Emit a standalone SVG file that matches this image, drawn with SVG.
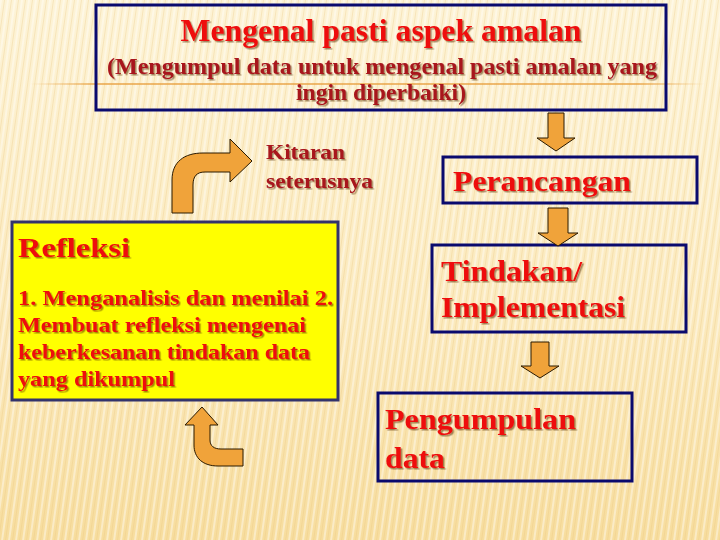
<svg xmlns="http://www.w3.org/2000/svg" width="720" height="540" viewBox="0 0 720 540">
<defs>
<linearGradient id="bg" x1="0" y1="0" x2="0" y2="1">
<stop offset="0" stop-color="#fdf3d6"/>
<stop offset="0.6" stop-color="#fbe9bc"/>
<stop offset="1" stop-color="#f7dd9e"/>
</linearGradient>
<linearGradient id="hl" x1="0" y1="0" x2="1" y2="0">
<stop offset="0" stop-color="#e8a040" stop-opacity="0"/>
<stop offset="0.1" stop-color="#e8a040" stop-opacity="0.7"/>
<stop offset="0.9" stop-color="#e8a040" stop-opacity="0.7"/>
<stop offset="1" stop-color="#e8a040" stop-opacity="0"/>
</linearGradient>
<pattern id="stripes" width="7" height="540" patternUnits="userSpaceOnUse" patternTransform="skewX(-8)">
<rect x="0" y="0" width="2" height="540" fill="#ffffff" opacity="0.4"/>
<rect x="4" y="0" width="1" height="540" fill="#e8c67a" opacity="0.3"/>
</pattern>
<filter id="sh" x="-10%" y="-20%" width="120%" height="150%">
<feDropShadow dx="1.5" dy="1.5" stdDeviation="0.4" flood-color="#5a3000" flood-opacity="0.55"/>
</filter>
<style>
.t{font-family:"Liberation Serif","Times New Roman",serif;font-weight:bold}
.red{fill:#ee1111;filter:url(#sh)}
.dred{fill:#a8141c;filter:url(#sh)}
.box{fill:none;stroke:#0a0a6e;stroke-width:3}
.arr{fill:#f0a33a;stroke:#2a1a00;stroke-width:1;stroke-linejoin:miter}
</style>
</defs>
<rect width="720" height="540" fill="url(#bg)"/>
<rect width="720" height="540" fill="url(#stripes)"/>
<rect x="30" y="83" width="675" height="2" fill="url(#hl)"/>

<g id="top-box">
<rect class="box" x="96" y="5" width="570" height="105"/>
<text class="t red" x="381" y="41" font-size="32" text-anchor="middle" textLength="401" lengthAdjust="spacingAndGlyphs">Mengenal pasti aspek amalan</text>
<text class="t dred" x="382" y="74" font-size="23" text-anchor="middle" textLength="550" lengthAdjust="spacingAndGlyphs">(Mengumpul data untuk mengenal pasti amalan yang</text>
<text class="t dred" x="381" y="100" font-size="23" text-anchor="middle" textLength="170" lengthAdjust="spacingAndGlyphs">ingin diperbaiki)</text>
</g>

<g id="kitaran">
<text class="t dred" x="266" y="159" font-size="22" textLength="79" lengthAdjust="spacingAndGlyphs">Kitaran</text>
<text class="t dred" x="266" y="188" font-size="22" textLength="107" lengthAdjust="spacingAndGlyphs">seterusnya</text>
</g>

<g id="perancangan">
<rect class="box" x="443" y="157" width="254" height="46"/>
<text class="t red" x="453" y="191" font-size="29" textLength="178" lengthAdjust="spacingAndGlyphs">Perancangan</text>
</g>

<g id="tindakan">
<rect class="box" x="432" y="245" width="254" height="87"/>
<text class="t red" x="441" y="281" font-size="29" textLength="141" lengthAdjust="spacingAndGlyphs">Tindakan/</text>
<text class="t red" x="441" y="317" font-size="29" textLength="184" lengthAdjust="spacingAndGlyphs">Implementasi</text>
</g>

<g id="pengumpulan">
<rect class="box" x="378" y="393" width="254" height="88"/>
<text class="t red" x="385" y="429" font-size="29" textLength="191" lengthAdjust="spacingAndGlyphs">Pengumpulan</text>
<text class="t red" x="385" y="468" font-size="29" textLength="60" lengthAdjust="spacingAndGlyphs">data</text>
</g>

<g id="refleksi">
<rect x="12" y="222" width="326" height="178" fill="#ffff00" stroke="#33336b" stroke-width="3"/>
<text class="t red" x="18" y="257" font-size="28" textLength="112" lengthAdjust="spacingAndGlyphs">Refleksi</text>
<text class="t red" x="18" y="305" font-size="22" textLength="315" lengthAdjust="spacingAndGlyphs">1. Menganalisis dan menilai 2.</text>
<text class="t red" x="18" y="332" font-size="22" textLength="288" lengthAdjust="spacingAndGlyphs">Membuat refleksi mengenai</text>
<text class="t red" x="18" y="359" font-size="22" textLength="292" lengthAdjust="spacingAndGlyphs">keberkesanan tindakan data</text>
<text class="t red" x="18" y="386" font-size="22" textLength="157" lengthAdjust="spacingAndGlyphs">yang dikumpul</text>
</g>

<g id="connectors">
<path class="arr" d="M548,113 L564,113 L564,138 L575,138 L556,151 L537,138 L548,138 Z"/>
<path class="arr" d="M548,208 L568,208 L568,233 L578,233 L558,246 L538,233 L548,233 Z"/>
<path class="arr" d="M531,342 L549,342 L549,366 L559,366 L540,378 L521,366 L531,366 Z"/>
<path class="arr" d="M172,213 L172,180 C172,162 184,153 203,153 L230,153 L230,139 L252,161 L230,182 L230,172 L205,172 C197,172 193,176 193,185 L193,213 Z"/>
<path class="arr" d="M202,407 L218,425 L210,425 L210,440 C210,446 214,449 221,449 L243,449 L243,466 L218,466 C203,466 194,458 194,445 L194,425 L185,425 Z"/>
</g>
</svg>
